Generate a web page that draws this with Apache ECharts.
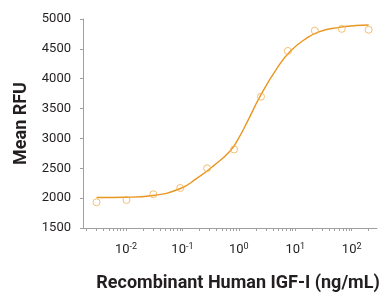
<!DOCTYPE html>
<html>
<head>
<meta charset="utf-8">
<script src="https://cdn.jsdelivr.net/npm/echarts@6/dist/echarts.min.js"></script>
<style>
  html, body { margin: 0; padding: 0; background: #fff; }
  #echarts { width: 380px; height: 294px; }
</style>
</head>
<body>
<div id="echarts"></div>
<script>
// measured points (ng/mL, Mean RFU)
var conc = [0.003, 0.0102, 0.0305, 0.0914, 0.274, 0.823, 2.47, 7.41, 22.2, 66.7, 200];
var rfu = [1930, 1970, 2065, 2170, 2500, 2815, 3700, 4465, 4805, 4835, 4820];

// fitted curve
var fitX = [0.003, 0.01, 0.03, 0.09, 0.18, 0.36, 0.7, 1.0, 1.38, 2.43, 4.7, 8.1, 16, 27, 60, 120, 200];
var fitY = [2010, 2015, 2045, 2157, 2330, 2545, 2790, 3010, 3260, 3720, 4170, 4456, 4680, 4790, 4860, 4890, 4900];

var decades = [0.01, 0.1, 1, 10, 100];

var minorTicks = [];
[0.001, 0.01, 0.1, 1, 10, 100].forEach(function (d) {
    for (var k = 1; k <= 9; k++) {
        var v = d * k;
        if (v > 0.00173 && v < 281) minorTicks.push(v);
    }
});

var font = 'Roboto, "Liberation Sans", sans-serif';
var chart = echarts.init(document.getElementById('echarts'));

chart.setOption({
    animation: false,
    textStyle: { fontFamily: font },
    grid: { left: 83, right: 3, top: 19, bottom: 66, outerBoundsMode: 'none' },
    xAxis: {
        type: 'log',
        logBase: 10,
        min: 0.00173,
        max: 281,
        name: 'Recombinant Human IGF-I (ng/mL)',
        nameLocation: 'middle',
        nameGap: 46,
        nameTextStyle: { fontSize: 18, fontWeight: 'bold', color: '#231f20', padding: [0, 0, 0, 16] },
        axisLine: { lineStyle: { color: '#a0a0a0', width: 1 } },
        axisTick: { show: true, length: 3, customValues: minorTicks, lineStyle: { color: '#a0a0a0' } },
        splitLine: { show: false },
        axisLabel: {
            customValues: decades,
            margin: 14,
            color: '#231f20',
            formatter: function (v) {
                return '{b|10}{s|' + Math.round(Math.log10(v)) + '}';
            },
            rich: {
                b: { fontSize: 13, lineHeight: 16, color: '#231f20', fontFamily: font },
                s: { fontSize: 9, lineHeight: 16, verticalAlign: 'top', color: '#231f20', fontFamily: font, padding: [0, 0, 6, 0] }
            }
        }
    },
    yAxis: {
        type: 'value',
        min: 1500,
        max: 5000,
        interval: 500,
        name: 'Mean RFU',
        nameLocation: 'middle',
        nameGap: 50,
        nameTextStyle: { fontSize: 18, fontWeight: 'bold', color: '#231f20' },
        axisLine: { show: true, lineStyle: { color: '#a0a0a0' } },
        axisTick: { show: true, length: 3, lineStyle: { color: '#a0a0a0' } },
        splitLine: { show: false },
        axisLabel: {
            fontSize: 13,
            color: '#231f20',
            margin: 12,
            formatter: function (v) { return String(v); }
        }
    },
    series: [
        {
            type: 'line',
            data: fitX.map(function (x, i) { return [x, fitY[i]]; }),
            smooth: true,
            showSymbol: false,
            lineStyle: { color: '#e8961f', width: 1.4 },
            z: 2
        },
        {
            type: 'scatter',
            data: conc.map(function (x, i) { return [x, rfu[i]]; }),
            symbol: 'circle',
            symbolSize: 7,
            itemStyle: { color: 'rgba(255,255,255,0)', borderColor: '#f0b050', borderWidth: 1 },
            z: 3
        }
    ]
});
</script>
</body>
</html>
